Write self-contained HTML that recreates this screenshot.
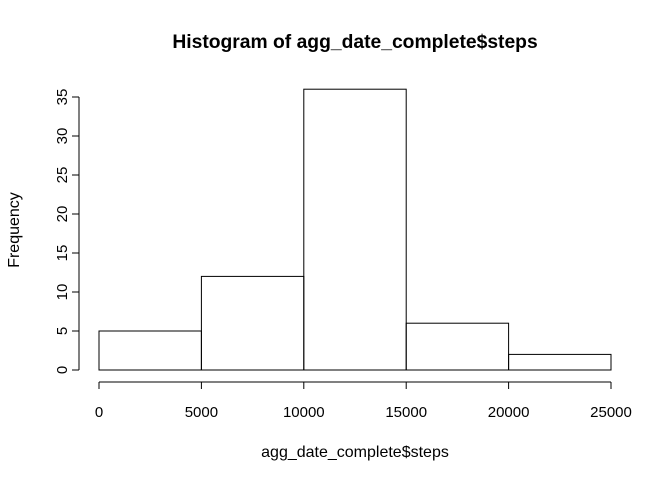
<!DOCTYPE html>
<html><head><meta charset="utf-8"><style>
body{margin:0;background:#fff}
svg text{font-family:"Liberation Sans",Arial,sans-serif;fill:#000}
</style></head><body>
<svg id="c" width="672" height="480" xmlns="http://www.w3.org/2000/svg">
<text x="355" y="48" font-size="19.3" font-weight="bold" text-anchor="middle">Histogram of agg_date_complete$steps</text>
<text x="355" y="457" font-size="16" text-anchor="middle">agg_date_complete$steps</text>
<text transform="translate(19,230) rotate(-90)" font-size="16" text-anchor="middle">Frequency</text>
<g id="bars"></g><g id="xa"></g><g id="ya"></g>
</svg>
<script>
const breaks=[0,5000,10000,15000,20000,25000];
const counts=[5,12,36,6,2];
const xTicks=[0,5000,10000,15000,20000,25000];
const yTicks=[0,5,10,15,20,25,30,35];
const NS="http://www.w3.org/2000/svg";
const xs=v=>99+v*(512/25000);
const ys=v=>370-v*7.8;
function mk(t,a,p){const e=document.createElementNS(NS,t);for(const k in a)e.setAttribute(k,a[k]);p.appendChild(e);return e;}
const bars=document.getElementById('bars');
counts.forEach((c,i)=>{
 const r=mk('rect',{x:xs(breaks[i]),y:ys(c),width:xs(breaks[i+1])-xs(breaks[i]),height:ys(0)-ys(c),fill:'none',stroke:'#000','stroke-width':1},bars);
 
 
});
const xa=document.getElementById('xa');
const xl=mk('line',{x1:xs(xTicks[0]),x2:xs(xTicks[xTicks.length-1]),y1:382,y2:382,stroke:'#000'},xa);


xTicks.forEach(v=>{
 mk('line',{x1:xs(v),x2:xs(v),y1:382,y2:389,stroke:'#000'},xa);
 const t=mk('text',{x:xs(v),y:417,'font-size':15,'text-anchor':'middle'},xa);t.textContent=v;
 
 
});
const ya=document.getElementById('ya');
const yl=mk('line',{x1:79,x2:79,y1:ys(yTicks[0]),y2:ys(yTicks[yTicks.length-1]),stroke:'#000'},ya);


yTicks.forEach(v=>{
 mk('line',{x1:72,x2:79,y1:ys(v),y2:ys(v),stroke:'#000'},ya);
 const t=mk('text',{transform:`translate(67,${ys(v)}) rotate(-90)`,'font-size':15,'text-anchor':'middle'},ya);t.textContent=v;
 
 
});
</script>
</body></html>
